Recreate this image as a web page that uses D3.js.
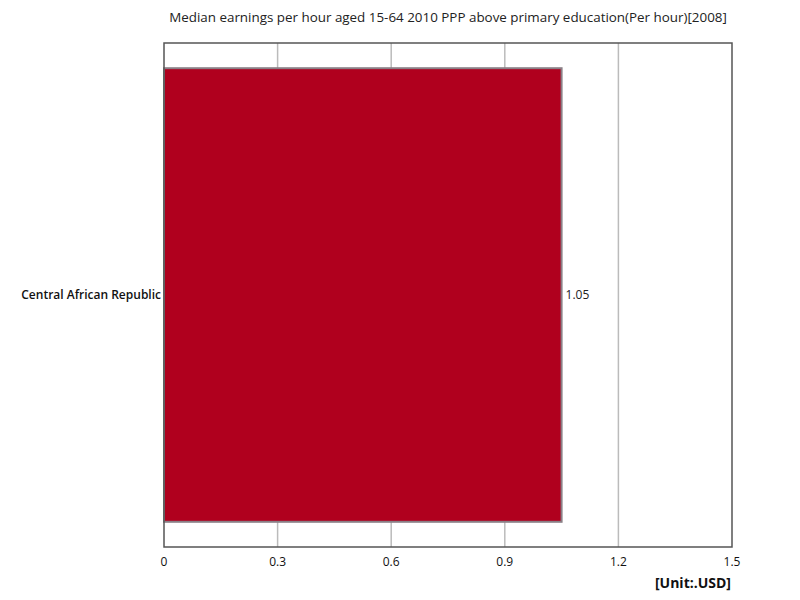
<!DOCTYPE html>
<html><head><meta charset="utf-8">
<script src="https://cdn.jsdelivr.net/npm/d3@7"></script>
<style>body{margin:0;background:#fff;} text{font-family:"Open Sans","Noto Sans",sans-serif;}</style>
</head><body>
<svg id="c" width="800" height="600"></svg>
<script>
const categories = ["Central African Republic"];
const values = [1.05];
const xTicks = [0, 0.3, 0.6, 0.9, 1.2, 1.5];
const title = "Median earnings per hour aged 15-64 2010 PPP above primary education(Per hour)[2008]";
const unit = "[Unit:.USD]";

const svg = d3.select("#c");
const m = {l:164, r:732, t:43, b:547};
const x = d3.scaleLinear().domain([0, 1.5]).range([m.l, m.r]);
const y = d3.scaleBand().domain(categories).range([m.t, m.b]).paddingInner(0.1).paddingOuter(0.05);

svg.append("text").attr("x", 448).attr("y", 22).attr("text-anchor","middle")
  .attr("font-size", 13.4).attr("fill","#222").text(title);

svg.append("g").selectAll("line").data(xTicks.slice(1,-1)).join("line")
  .attr("x1", d=>x(d)).attr("x2", d=>x(d)).attr("y1", m.t).attr("y2", m.b)
  .attr("stroke","#bbb").attr("stroke-width",1.5);

svg.append("g").selectAll("rect").data(values).join("rect")
  .attr("x", x(0)).attr("y", (d,i)=>y(categories[i]))
  .attr("width", d=>x(d)-x(0)).attr("height", y.bandwidth())
  .attr("fill","#b0001e").attr("stroke","#8a7f86").attr("stroke-width",2);

svg.append("rect").attr("x", m.l).attr("y", m.t).attr("width", m.r-m.l).attr("height", m.b-m.t)
  .attr("fill","none").attr("stroke","#555").attr("stroke-width",1.5);

svg.append("g").selectAll("text").data(values).join("text")
  .attr("x", d=>x(d)+4).attr("y", (d,i)=>y(categories[i])+y.bandwidth()/2)
  .attr("dy","0.35em").attr("font-size",12).attr("fill","#222").text(d=>d.toFixed(2));

svg.append("g").selectAll("text").data(categories).join("text")
  .attr("x", m.l-3).attr("y", d=>y(d)+y.bandwidth()/2).attr("dy","0.35em")
  .attr("text-anchor","end").attr("font-size",12).attr("font-weight","600").attr("fill","#111").text(d=>d);

svg.append("g").selectAll("text").data(xTicks).join("text")
  .attr("x", d=>x(d)).attr("y", 566).attr("text-anchor","middle")
  .attr("font-size",12).attr("fill","#111").text(d=>d===0?"0":d.toString());

svg.append("text").attr("x", 731).attr("y", 588).attr("text-anchor","end")
  .attr("font-size",14).attr("font-weight","bold").attr("fill","#111").text(unit);
</script>
</body></html>
